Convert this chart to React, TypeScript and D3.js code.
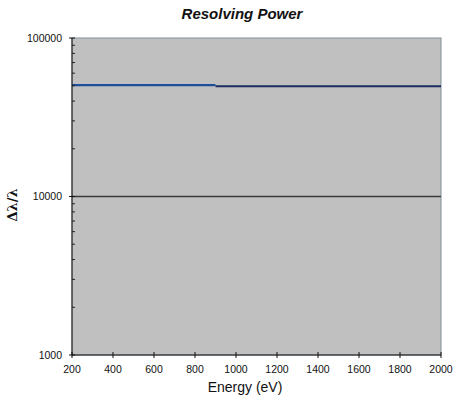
import React from "react";
import * as d3 from "d3";

const W = 453;
const H = 397;
const margin = { left: 72, right: 12, top: 38, bottom: 42 };

const xTicks = [200, 400, 600, 800, 1000, 1200, 1400, 1600, 1800, 2000];
const yTicks = [1000, 10000, 100000];

// series: energy (eV) and resolving power
const seriesAEnergy = [200, 900];
const seriesAValues = [50500, 50500];
const seriesBEnergy = [900, 2000];
const seriesBValues = [49600, 49600];
const seriesCEnergy = [200, 2000];
const seriesCValues = [10000, 10000];

export default function App() {
  const x = d3.scaleLinear().domain([200, 2000]).range([margin.left, W - margin.right - 0]);
  const y = d3.scaleLog().domain([1000, 100000]).range([H - margin.bottom, margin.top]);
  const line = d3
    .line<[number, number]>()
    .x((d) => x(d[0]))
    .y((d) => y(d[1]));
  const zip = (a: number[], b: number[]) => a.map((v, i) => [v, b[i]] as [number, number]);

  const minor: number[] = [];
  for (let dec = 1000; dec < 100000; dec *= 10) {
    for (let k = 2; k <= 9; k++) minor.push(dec * k);
  }

  const x0 = margin.left;
  const x1 = x(2000);
  const yb = y(1000);
  const yt = y(100000);

  return (
    <svg
      width={W}
      height={H}
      style={{ position: "absolute", left: 0, top: 0, background: "#fff" }}
      fontFamily="Arial, 'Liberation Sans', sans-serif"
    >
      <text x={242} y={19} textAnchor="middle" fontSize={15} fontWeight="bold" fontStyle="italic" fill="#111">
        Resolving Power
      </text>
      <rect x={x0} y={yt} width={x1 - x0} height={yb - yt} fill="#c0c0c0" stroke="#7f8f96" strokeWidth={1} />
      {/* lines */}
      <path d={line(zip(seriesCEnergy, seriesCValues)) || ""} stroke="#3a3a3a" strokeWidth={1.6} fill="none" />
      <path d={line(zip(seriesAEnergy, seriesAValues)) || ""} stroke="#1f4f9a" strokeWidth={2.2} fill="none" />
      <path d={line(zip(seriesBEnergy, seriesBValues)) || ""} stroke="#1c2c5e" strokeWidth={2.2} fill="none" />
      {/* axes */}
      <line x1={x0} x2={x0} y1={yt} y2={yb} stroke="#111" strokeWidth={1} />
      <line x1={x0} x2={x1} y1={yb} y2={yb} stroke="#111" strokeWidth={1} />
      {minor.map((v) => (
        <line key={v} x1={x0} x2={x0 + 3} y1={y(v)} y2={y(v)} stroke="#222" strokeWidth={1} />
      ))}
      {yTicks.map((v) => (
        <g key={v}>
          <line x1={x0 - 3} x2={x0 + 3} y1={y(v)} y2={y(v)} stroke="#111" strokeWidth={1} />
          <text x={x0 - 10} y={y(v) + 3.5} textAnchor="end" fontSize={10.5} fill="#111">
            {v}
          </text>
        </g>
      ))}
      {xTicks.map((v) => (
        <g key={v}>
          <line x1={x(v)} x2={x(v)} y1={yb - 3} y2={yb + 3} stroke="#111" strokeWidth={1} />
          <text x={x(v)} y={yb + 18} textAnchor="middle" fontSize={10.5} fill="#111">
            {v}
          </text>
        </g>
      ))}
      <text x={245} y={392} textAnchor="middle" fontSize={14} fill="#111">
        Energy (eV)
      </text>
      <text
        transform={`translate(17,${205}) rotate(-90)`}
        textAnchor="middle"
        fontSize={13}
        fontWeight="bold"
        fontFamily="'DejaVu Serif', serif"
        fill="#111"
      >
        Δλ/λ
      </text>
    </svg>
  );
}
